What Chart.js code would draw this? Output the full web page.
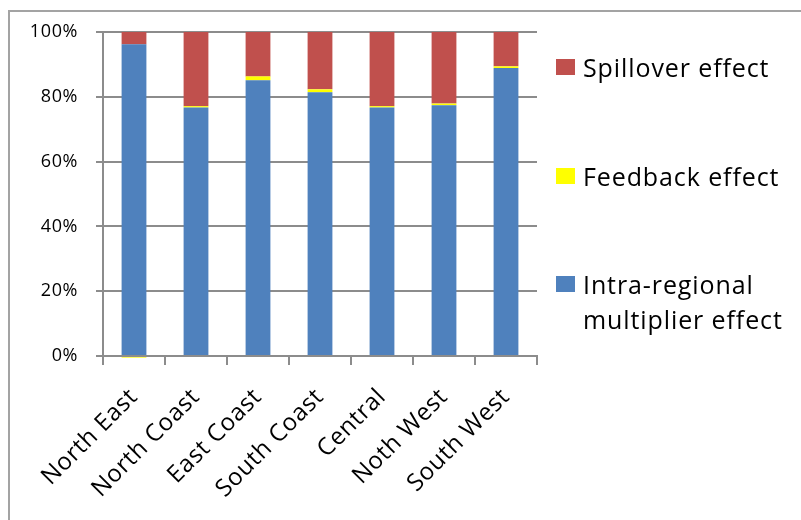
<!DOCTYPE html>
<html>
<head>
<meta charset="utf-8">
<script src="https://cdn.jsdelivr.net/npm/chart.js@4/dist/chart.umd.min.js"></script>
<style>
  html, body { margin: 0; padding: 0; background: #fff; }
  #wrap { position: relative; width: 801px; height: 520px; overflow: hidden; }
  #frame { position: absolute; left: 8px; top: 10px; width: 900px; height: 600px;
           border-left: 2px solid #a3a3a3; border-top: 2px solid #a3a3a3; box-sizing: border-box; }
  canvas { position: absolute; left: 0; top: 0; }
</style>
</head>
<body>
<div id="wrap">
  <div id="frame"></div>
  <canvas id="c" width="801" height="520"></canvas>
</div>
<script>
// Regions and the share (%) of each effect in the total multiplier
const regions = ['North East', 'North Coast', 'East Coast', 'South Coast', 'Central', 'Noth West', 'South West'];
const intraRegional = [96.2, 76.7, 85.1, 81.4, 76.7, 77.4, 88.9];
const feedback      = [-0.5, 0.4, 1.2, 0.9, 0.4, 0.5, 0.5];
const spillover     = [3.8, 22.9, 13.7, 17.7, 22.9, 22.1, 10.6];
const yTicks = [0, 20, 40, 60, 80, 100];

const FONT = '"Open Sans", "Liberation Sans", sans-serif';
const GRID = '#8c8c8c';

// Legend drawn to the right of the plot, one entry per series (top to bottom)
const legendItems = [
  { lines: ['Spillover effect'], color: '#C0504D', y: 59 },
  { lines: ['Feedback effect'], color: '#FFFF00', y: 168 },
  { lines: ['Intra-regional', 'multiplier effect'], color: '#4F81BD', y: 276 }
];

// Slightly open letter spacing for all canvas text
const spacing = {
  id: 'spacing',
  beforeDraw(chart) { chart.ctx.letterSpacing = '0.6px'; }
};

const sideLegend = {
  id: 'sideLegend',
  afterDraw(chart) {
    const ctx = chart.ctx;
    const x0 = chart.chartArea.right + 19;
    ctx.save();
    ctx.letterSpacing = '0.9px';
    ctx.font = '25px ' + FONT;
    ctx.textBaseline = 'alphabetic';
    ctx.textAlign = 'left';
    legendItems.forEach(item => {
      ctx.fillStyle = item.color;
      ctx.fillRect(x0, item.y, 19, 16);
      ctx.fillStyle = '#000';
      item.lines.forEach((t, i) => {
        ctx.fillText(t, x0 + 27, item.y + 18 + i * 35);
      });
    });
    ctx.restore();
  }
};

new Chart(document.getElementById('c'), {
  type: 'bar',
  data: {
    labels: regions,
    datasets: [
      { label: 'Intra-regional multiplier effect', data: intraRegional, backgroundColor: '#4F81BD' },
      { label: 'Feedback effect', data: feedback, backgroundColor: '#FFFF00', clip: false },
      { label: 'Spillover effect', data: spillover, backgroundColor: '#C0504D' }
    ]
  },
  options: {
    responsive: false,
    animation: false,
    devicePixelRatio: 1,
    layout: { padding: { top: 32, right: 264, bottom: 0, left: 0 } },
    datasets: { bar: { categoryPercentage: 1.0, barPercentage: 0.4, borderWidth: 0 } },
    plugins: { legend: { display: false }, tooltip: { enabled: false } },
    scales: {
      x: {
        stacked: true,
        afterFit(s) { s.height = 164; },
        grid: { offset: true, drawOnChartArea: false, drawTicks: true, tickLength: 9, color: GRID, lineWidth: 2 },
        border: { color: GRID, width: 2 },
        ticks: { minRotation: 45, maxRotation: 45, color: '#000', font: { family: FONT, size: 24 }, padding: 18 }
      },
      y: {
        stacked: true,
        min: 0,
        max: 100,
        afterFit(s) { s.width = 103; },
        afterBuildTicks(s) { s.ticks = yTicks.map(v => ({ value: v })); },
        grid: { color: GRID, lineWidth: 2, tickLength: 7, drawTicks: true },
        border: { color: GRID, width: 2 },
        ticks: { color: '#000', font: { family: FONT, size: 18 }, padding: 18, callback: v => v + '%' }
      }
    }
  },
  plugins: [spacing, sideLegend]
});
</script>
</body>
</html>
